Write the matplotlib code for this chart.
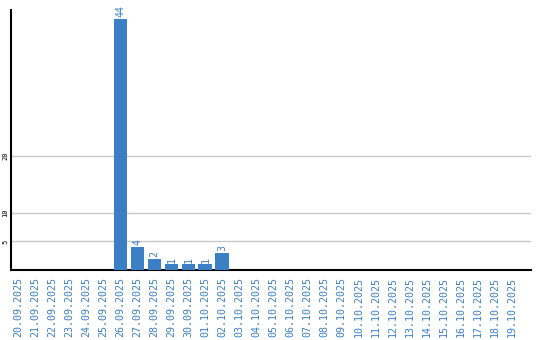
import matplotlib
matplotlib.use("Agg")
import matplotlib.pyplot as plt

dates = ["20.09.2025", "21.09.2025", "22.09.2025", "23.09.2025", "24.09.2025",
         "25.09.2025", "26.09.2025", "27.09.2025", "28.09.2025", "29.09.2025",
         "30.09.2025", "01.10.2025", "02.10.2025", "03.10.2025", "04.10.2025",
         "05.10.2025", "06.10.2025", "07.10.2025", "08.10.2025", "09.10.2025",
         "10.10.2025", "11.10.2025", "12.10.2025", "13.10.2025", "14.10.2025",
         "15.10.2025", "16.10.2025", "17.10.2025", "18.10.2025", "19.10.2025"]
values = [0, 0, 0, 0, 0, 0, 44, 4, 2, 1, 1, 1, 3, 0, 0,
          0, 0, 0, 0, 0, 0, 0, 0, 0, 0, 0, 0, 0, 0, 0]
y_ticks = [5, 10, 20]

BLUE = "#3b7fc4"
W, H = 540, 340
fig = plt.figure(figsize=(W / 100, H / 100), dpi=100)
ax = fig.add_axes([11 / W, (H - 270) / H, (531 - 11) / W, (270 - 10) / H])

x = list(range(len(dates)))
ax.bar(x, values, width=0.82, color=BLUE, zorder=3)
for xi, v in zip(x, values):
    if v > 0:
        ax.text(xi, v + 0.3, str(v), rotation=90, ha="center", va="bottom",
                color=BLUE, fontsize=7.2, family="DejaVu Sans Mono")

ax.set_xlim(-0.44, 30.15)
ax.set_ylim(0, 45.6)
ax.set_yticks(y_ticks)
ax.set_yticklabels([str(t) for t in y_ticks], rotation=90, va="center",
                   fontsize=5, family="DejaVu Sans Mono")
ax.yaxis.grid(True, color="#c8c8c8", linewidth=1, zorder=0)
ax.tick_params(axis="y", length=0, pad=2)
ax.set_xticks(x)
ax.set_xticklabels(dates, rotation=90, fontsize=7.2, family="DejaVu Sans Mono",
                   color=BLUE)
ax.tick_params(axis="x", length=0, pad=5)
for s in ["top", "right"]:
    ax.spines[s].set_visible(False)
ax.spines["left"].set_linewidth(1.5)
ax.spines["bottom"].set_linewidth(1.5)

fig.savefig("out.png", dpi=100)
